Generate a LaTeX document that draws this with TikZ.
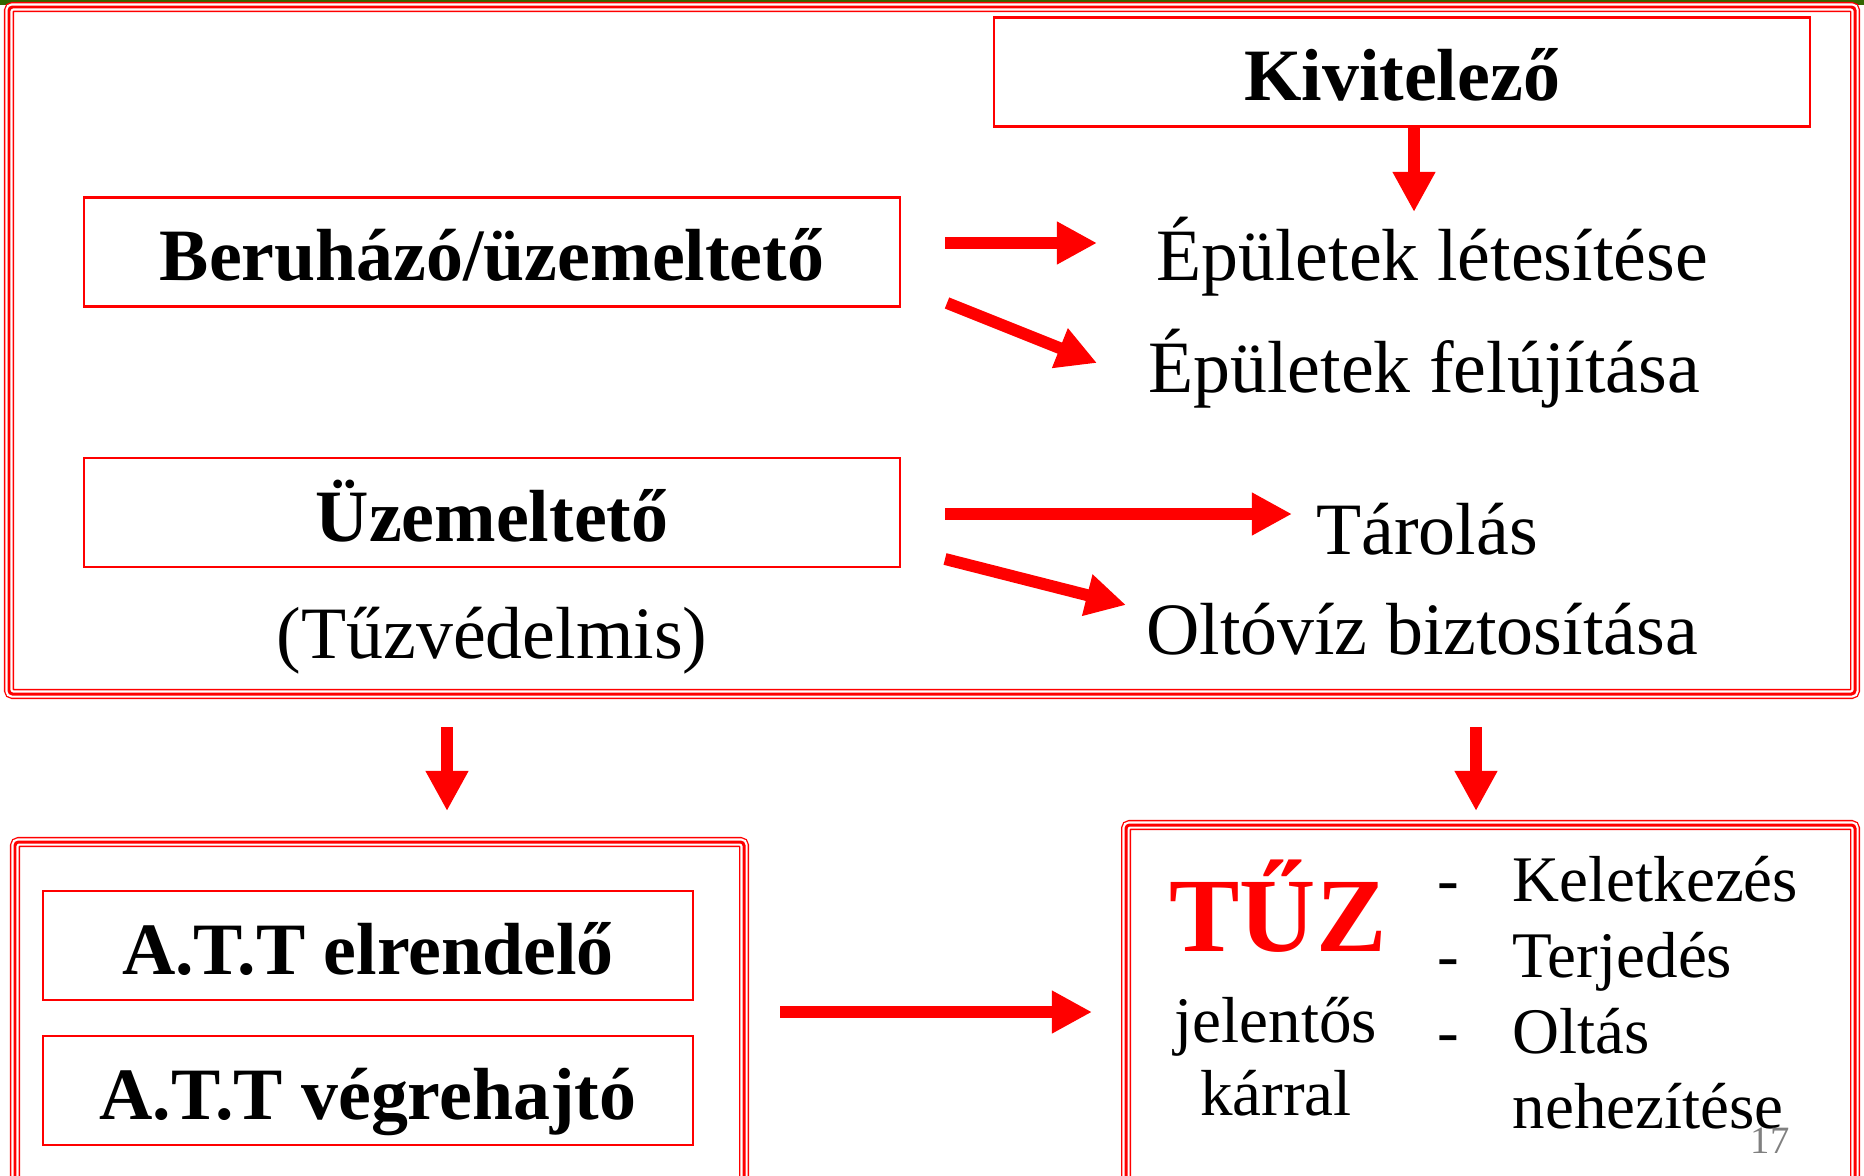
\documentclass[tikz,border=0pt]{standalone}
\usepackage{fontspec}
\setmainfont{Liberation Serif}
\usetikzlibrary{arrows.meta}
\definecolor{fireRed}{RGB}{255,0,0}
\definecolor{topGreen}{RGB}{51,102,0}

\begin{document}
\begin{tikzpicture}[x=0.01cm, y=-0.01cm,
    box/.style={draw=fireRed, line width=0.6pt, inner sep=0pt,
      text height=0.83cm, text depth=0.26cm, minimum height=1.09cm},
    frame/.style={draw=fireRed, line width=0.85pt, rounded corners=1pt,
      preaction={draw=fireRed, line width=2.85pt},
      preaction={draw=white, line width=2.1pt}},
    bigarrow/.style={draw=fireRed, line width=3.4pt,
      -{Triangle[length=0.4cm, width=0.4cm]}},
    lbl/.style={font=\fontsize{21}{25}\selectfont, anchor=base, inner sep=0pt},
    sml/.style={lbl, font=\fontsize{18.5}{22}\selectfont},
    hd/.style={font=\fontsize{21}{25}\selectfont\bfseries}]
  \useasboundingbox (0,0) rectangle (1864,1176);
  \clip (0,0) rectangle (1864,1176);

  % Frames
  \fill[topGreen] (0,0) rectangle (1864,5);
  \draw[frame] (9,7) rectangle (1855,694);
  \draw[frame] (15,842) rectangle (744,1200);
  \draw[frame] (1126,825) rectangle (1855,1200);

  % Boxes
  \node[box, hd, minimum width=8.16cm] (kiv) at (1402,72) {Kivitelező};
  \node[box, hd, minimum width=8.16cm] (beru) at (492,252) {Beruházó/üzemeltető};
  \node[box, hd, minimum width=8.16cm] (uzem) at (492,512.5) {Üzemeltető};
  \node[box, hd, minimum width=6.5cm] (elr) at (368,945.5) {A.T.T elrendelő};
  \node[box, hd, minimum width=6.5cm] (vegr) at (368,1090.5) {A.T.T végrehajtó};

  % Labels
  \node[lbl] (tuzv) at (492,658) {(Tűzvédelmis)};
  \node[lbl] (let) at (1432,281) {Épületek létesítése};
  \node[lbl] (fel) at (1424,392) {Épületek felújítása};
  \node[lbl] (tar) at (1427,554) {Tárolás};
  \node[lbl] (olt) at (1422,654) {Oltóvíz biztosítása};

  \node[lbl, font=\fontsize{30}{34}\selectfont\bfseries, text=fireRed] (tuz) at (1278,951) {TŰZ};
  \node[sml] (jel) at (1276,1042) {jelentős};
  \node[sml] (kar) at (1276,1115) {kárral};

  \node[sml] (d1) at (1448,901) {-};
  \node[sml] (d2) at (1448,977) {-};
  \node[sml] (d3) at (1448,1053) {-};
  \node[sml, anchor=base west] (kel) at (1512,901) {Keletkezés};
  \node[sml, anchor=base west] (ter) at (1512,977) {Terjedés};
  \node[sml, anchor=base west] (olta) at (1512,1053) {Oltás};
  \node[sml, anchor=base west] (neh) at (1512,1128) {nehezítése};
  \node[lbl, font=\fontsize{11}{13}\selectfont, text=gray] (num) at (1770,1153) {17};

  % Arrows
  \coordinate (kdown) at (1414,212);
  \coordinate (a1s) at (945,243);
  \coordinate (a1e) at (1097,243);
  \coordinate (a2s) at (947,303);
  \coordinate (a2e) at (1097,363);
  \coordinate (a3s) at (945,514);
  \coordinate (a3e) at (1292,514);
  \coordinate (a4s) at (945,559);
  \coordinate (a4e) at (1126,605);
  \coordinate (dls) at (447,727);
  \coordinate (dle) at (447,811);
  \coordinate (drs) at (1476,727);
  \coordinate (dre) at (1476,811);
  \coordinate (hs) at (780,1012);
  \coordinate (he) at (1092,1012);

  \draw[bigarrow] (kdown |- kiv.south) -- (kdown);
  \draw[bigarrow] (a1s) -- (a1e);
  \draw[bigarrow] (a2s) -- (a2e);
  \draw[bigarrow] (a3s) -- (a3e);
  \draw[bigarrow] (a4s) -- (a4e);
  \draw[bigarrow] (dls) -- (dle);
  \draw[bigarrow] (drs) -- (dre);
  \draw[bigarrow] (hs) -- (he);

\end{tikzpicture}
\end{document}
